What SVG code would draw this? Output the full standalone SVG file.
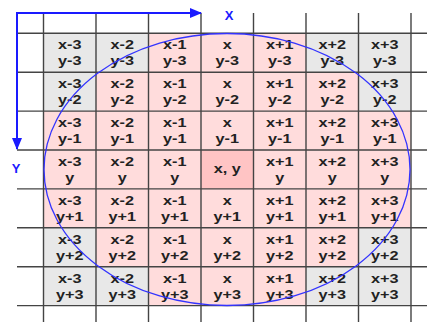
<svg xmlns="http://www.w3.org/2000/svg" width="427" height="322" viewBox="0 0 427 322">
<style>
.g{fill:#e8e8e8}
.p{fill:#ffdcdc}
.c{fill:#ffc4c4}
.t{font-family:"Liberation Sans",Arial,sans-serif;font-weight:bold;font-size:12.5px;fill:#222;text-anchor:middle}
.ax{font-family:"Liberation Sans",Arial,sans-serif;font-weight:bold;font-size:13px;fill:#1a1aff;text-anchor:middle}
.grid line{stroke:#444;stroke-width:1.4}
</style>
<defs>
<marker id="ah" markerWidth="12" markerHeight="10" refX="11" refY="5" orient="auto" markerUnits="userSpaceOnUse">
<path d="M0,0 L12,5 L0,10 Z" fill="#1a1aff"/>
</marker>
</defs>
<rect width="427" height="322" fill="#fff"/>
<g id="cells">
<rect class="g" x="43.5" y="33.3" width="52.5" height="38.9"/>
<rect class="g" x="96" y="33.3" width="52.5" height="38.9"/>
<rect class="p" x="148.5" y="33.3" width="157.5" height="38.9"/>
<rect class="g" x="306" y="33.3" width="105" height="38.9"/>
<rect class="g" x="43.5" y="72.2" width="52.5" height="38.9"/>
<rect class="p" x="96" y="72.2" width="262.5" height="38.9"/>
<rect class="g" x="358.5" y="72.2" width="52.5" height="38.9"/>
<rect class="p" x="43.5" y="111.1" width="367.5" height="116.7"/>
<rect class="c" x="201" y="150" width="52.5" height="38.9"/>
<rect class="g" x="43.5" y="227.8" width="52.5" height="38.9"/>
<rect class="p" x="96" y="227.8" width="262.5" height="38.9"/>
<rect class="g" x="358.5" y="227.8" width="52.5" height="38.9"/>
<rect class="g" x="43.5" y="266.7" width="105" height="38.9"/>
<rect class="p" x="148.5" y="266.7" width="157.5" height="38.9"/>
<rect class="g" x="306" y="266.7" width="105" height="38.9"/>
</g>
<g class="grid">
<line x1="43.5" y1="13" x2="43.5" y2="322"/>
<line x1="96" y1="13" x2="96" y2="322"/>
<line x1="148.5" y1="13" x2="148.5" y2="322"/>
<line x1="201" y1="13" x2="201" y2="322"/>
<line x1="253.5" y1="13" x2="253.5" y2="322"/>
<line x1="306" y1="13" x2="306" y2="322"/>
<line x1="358.5" y1="13" x2="358.5" y2="322"/>
<line x1="411" y1="13" x2="411" y2="322"/>
<line x1="17" y1="33.3" x2="427" y2="33.3"/>
<line x1="17" y1="72.2" x2="427" y2="72.2"/>
<line x1="17" y1="111.1" x2="427" y2="111.1"/>
<line x1="17" y1="150" x2="427" y2="150"/>
<line x1="17" y1="188.9" x2="427" y2="188.9"/>
<line x1="17" y1="227.8" x2="427" y2="227.8"/>
<line x1="17" y1="266.7" x2="427" y2="266.7"/>
<line x1="17" y1="305.6" x2="427" y2="305.6"/>
</g>
<g id="labels" transform="scale(1.3,1)">
<g id="r1">
<text class="t" x="53.654" y="49.3">x-3<tspan x="53.654" dy="16">y-3</tspan></text>
<text class="t" x="94.038" y="49.3">x-2<tspan x="94.038" dy="16">y-3</tspan></text>
<text class="t" x="134.423" y="49.3">x-1<tspan x="134.423" dy="16">y-3</tspan></text>
<text class="t" x="174.808" y="49.3">x<tspan x="174.808" dy="16">y-3</tspan></text>
<text class="t" x="215.192" y="49.3">x+1<tspan x="215.192" dy="16">y-3</tspan></text>
<text class="t" x="255.577" y="49.3">x+2<tspan x="255.577" dy="16">y-3</tspan></text>
<text class="t" x="295.962" y="49.3">x+3<tspan x="295.962" dy="16">y-3</tspan></text>
</g>
<g id="r2">
<text class="t" x="53.654" y="88.2">x-3<tspan x="53.654" dy="16">y-2</tspan></text>
<text class="t" x="94.038" y="88.2">x-2<tspan x="94.038" dy="16">y-2</tspan></text>
<text class="t" x="134.423" y="88.2">x-1<tspan x="134.423" dy="16">y-2</tspan></text>
<text class="t" x="174.808" y="88.2">x<tspan x="174.808" dy="16">y-2</tspan></text>
<text class="t" x="215.192" y="88.2">x+1<tspan x="215.192" dy="16">y-2</tspan></text>
<text class="t" x="255.577" y="88.2">x+2<tspan x="255.577" dy="16">y-2</tspan></text>
<text class="t" x="295.962" y="88.2">x+3<tspan x="295.962" dy="16">y-2</tspan></text>
</g>
<g id="r3">
<text class="t" x="53.654" y="127.1">x-3<tspan x="53.654" dy="16">y-1</tspan></text>
<text class="t" x="94.038" y="127.1">x-2<tspan x="94.038" dy="16">y-1</tspan></text>
<text class="t" x="134.423" y="127.1">x-1<tspan x="134.423" dy="16">y-1</tspan></text>
<text class="t" x="174.808" y="127.1">x<tspan x="174.808" dy="16">y-1</tspan></text>
<text class="t" x="215.192" y="127.1">x+1<tspan x="215.192" dy="16">y-1</tspan></text>
<text class="t" x="255.577" y="127.1">x+2<tspan x="255.577" dy="16">y-1</tspan></text>
<text class="t" x="295.962" y="127.1">x+3<tspan x="295.962" dy="16">y-1</tspan></text>
</g>
<g id="r4">
<text class="t" x="53.654" y="166">x-3<tspan x="53.654" dy="16">y</tspan></text>
<text class="t" x="94.038" y="166">x-2<tspan x="94.038" dy="16">y</tspan></text>
<text class="t" x="134.423" y="166">x-1<tspan x="134.423" dy="16">y</tspan></text>
<text class="t" x="174.808" y="173.5">x, y</text>
<text class="t" x="215.192" y="166">x+1<tspan x="215.192" dy="16">y</tspan></text>
<text class="t" x="255.577" y="166">x+2<tspan x="255.577" dy="16">y</tspan></text>
<text class="t" x="295.962" y="166">x+3<tspan x="295.962" dy="16">y</tspan></text>
</g>
<g id="r5">
<text class="t" x="53.654" y="204.9">x-3<tspan x="53.654" dy="16">y+1</tspan></text>
<text class="t" x="94.038" y="204.9">x-2<tspan x="94.038" dy="16">y+1</tspan></text>
<text class="t" x="134.423" y="204.9">x-1<tspan x="134.423" dy="16">y+1</tspan></text>
<text class="t" x="174.808" y="204.9">x<tspan x="174.808" dy="16">y+1</tspan></text>
<text class="t" x="215.192" y="204.9">x+1<tspan x="215.192" dy="16">y+1</tspan></text>
<text class="t" x="255.577" y="204.9">x+2<tspan x="255.577" dy="16">y+1</tspan></text>
<text class="t" x="295.962" y="204.9">x+3<tspan x="295.962" dy="16">y+1</tspan></text>
</g>
<g id="r6">
<text class="t" x="53.654" y="243.8">x-3<tspan x="53.654" dy="16">y+2</tspan></text>
<text class="t" x="94.038" y="243.8">x-2<tspan x="94.038" dy="16">y+2</tspan></text>
<text class="t" x="134.423" y="243.8">x-1<tspan x="134.423" dy="16">y+2</tspan></text>
<text class="t" x="174.808" y="243.8">x<tspan x="174.808" dy="16">y+2</tspan></text>
<text class="t" x="215.192" y="243.8">x+1<tspan x="215.192" dy="16">y+2</tspan></text>
<text class="t" x="255.577" y="243.8">x+2<tspan x="255.577" dy="16">y+2</tspan></text>
<text class="t" x="295.962" y="243.8">x+3<tspan x="295.962" dy="16">y+2</tspan></text>
</g>
<g id="r7">
<text class="t" x="53.654" y="282.7">x-3<tspan x="53.654" dy="16">y+3</tspan></text>
<text class="t" x="94.038" y="282.7">x-2<tspan x="94.038" dy="16">y+3</tspan></text>
<text class="t" x="134.423" y="282.7">x-1<tspan x="134.423" dy="16">y+3</tspan></text>
<text class="t" x="174.808" y="282.7">x<tspan x="174.808" dy="16">y+3</tspan></text>
<text class="t" x="215.192" y="282.7">x+1<tspan x="215.192" dy="16">y+3</tspan></text>
<text class="t" x="255.577" y="282.7">x+2<tspan x="255.577" dy="16">y+3</tspan></text>
<text class="t" x="295.962" y="282.7">x+3<tspan x="295.962" dy="16">y+3</tspan></text>
</g>
</g>
<ellipse id="circle" cx="227" cy="169.5" rx="183" ry="136" fill="none" stroke="#3333ff" stroke-width="1.3"/>
<g id="connectors">
<line x1="17" y1="13" x2="201" y2="13" stroke="#1a1aff" stroke-width="2" marker-end="url(#ah)"/>
<line x1="17" y1="12" x2="17" y2="149" stroke="#1a1aff" stroke-width="2" marker-end="url(#ah)"/>
</g>
<g id="axis-labels">
<text class="ax" x="229" y="20">X</text>
<text class="ax" x="16" y="173">Y</text>
</g>
</svg>
